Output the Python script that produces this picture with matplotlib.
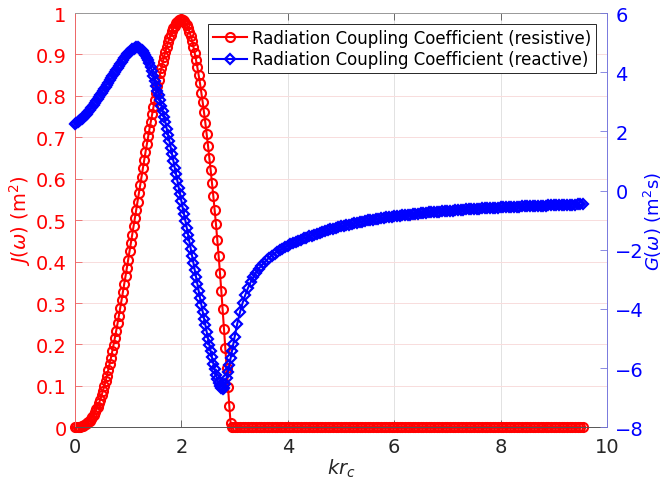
import numpy as np
import matplotlib
matplotlib.use("Agg")
import matplotlib.pyplot as plt

plt.rcParams['font.family'] = ['DejaVu Sans']
plt.rcParams['mathtext.fontset'] = 'dejavusans'

# Values
kr_fine = np.round(np.arange(0, 3.0, 0.025), 3)     # 0 .. 2.975
kr_tail = np.round(np.arange(3.0, 9.56, 0.05), 2)   # 3.00 .. 9.55

# resistive coupling J (left axis), one row per 0.25 in kr
J_fine = [0.0, 0.0001, 0.0003, 0.0007, 0.0015, 0.0025, 0.004, 0.0055, 0.0075, 0.010,
          0.013, 0.016, 0.020, 0.025, 0.030, 0.036, 0.043, 0.050, 0.058, 0.067,
          0.077, 0.088, 0.099, 0.111, 0.124, 0.138, 0.152, 0.167, 0.183, 0.199,
          0.216, 0.233, 0.251, 0.269, 0.288, 0.307, 0.326, 0.345, 0.365, 0.385,
          0.405, 0.425, 0.445, 0.465, 0.485, 0.505, 0.525, 0.545, 0.565, 0.585,
          0.605, 0.625, 0.645, 0.664, 0.683, 0.702, 0.720, 0.738, 0.756, 0.773,
          0.790, 0.807, 0.823, 0.839, 0.854, 0.868, 0.882, 0.895, 0.907, 0.918,
          0.929, 0.939, 0.948, 0.956, 0.963, 0.969, 0.975, 0.979, 0.982, 0.984,
          0.985, 0.984, 0.981, 0.977, 0.971, 0.964, 0.955, 0.945, 0.933, 0.919,
          0.904, 0.887, 0.869, 0.850, 0.830, 0.808, 0.785, 0.761, 0.735, 0.708,
          0.680, 0.651, 0.621, 0.590, 0.558, 0.525, 0.490, 0.453, 0.414, 0.373,
          0.330, 0.285, 0.238, 0.191, 0.144, 0.097, 0.052, 0.010, 0.0, 0.0]
J_tail = [0.0] * len(kr_tail)   # flat at zero past cut-off

# reactive coupling G (right axis)
G_fine = [2.25, 2.28, 2.31, 2.345, 2.38, 2.42, 2.46, 2.505, 2.55, 2.60,
          2.66, 2.72, 2.78, 2.84, 2.90, 2.96, 3.02, 3.09, 3.16, 3.23,
          3.30, 3.37, 3.44, 3.51, 3.58, 3.65, 3.72, 3.79, 3.86, 3.93,
          4.00, 4.08, 4.15, 4.22, 4.29, 4.36, 4.42, 4.48, 4.54, 4.60,
          4.65, 4.69, 4.73, 4.77, 4.80, 4.83, 4.84, 4.84, 4.82, 4.79,
          4.76, 4.71, 4.65, 4.57, 4.49, 4.40, 4.30, 4.17, 4.03, 3.87,
          3.70, 3.54, 3.38, 3.22, 3.05, 2.87, 2.68, 2.49, 2.30, 2.09,
          1.88, 1.66, 1.45, 1.22, 1.00, 0.77, 0.55, 0.32, 0.10, -0.13,
          -0.35, -0.58, -0.80, -1.03, -1.25, -1.49, -1.72, -1.96, -2.20, -2.44,
          -2.68, -2.91, -3.15, -3.39, -3.63, -3.86, -4.10, -4.33, -4.55, -4.78,
          -5.00, -5.22, -5.43, -5.64, -5.85, -6.04, -6.22, -6.38, -6.51, -6.61,
          -6.68, -6.71, -6.66, -6.52, -6.33, -6.12, -5.90, -5.66, -5.42, -5.17]
# one row per 0.5 in kr
G_tail = [-4.95, -4.50, -4.12, -3.80, -3.53, -3.30, -3.10, -2.93, -2.78, -2.65,
          -2.54, -2.44, -2.35, -2.27, -2.20, -2.13, -2.07, -2.01, -1.96, -1.91,
          -1.86, -1.82, -1.78, -1.74, -1.70, -1.66, -1.62, -1.59, -1.55, -1.52,
          -1.49, -1.46, -1.43, -1.40, -1.37, -1.34, -1.31, -1.29, -1.26, -1.24,
          -1.21, -1.19, -1.17, -1.15, -1.13, -1.11, -1.09, -1.07, -1.05, -1.03,
          -1.01, -1.00, -0.98, -0.97, -0.95, -0.94, -0.92, -0.91, -0.89, -0.88,
          -0.87, -0.86, -0.85, -0.84, -0.83, -0.82, -0.81, -0.80, -0.79, -0.78,
          -0.77, -0.76, -0.75, -0.74, -0.73, -0.725, -0.72, -0.71, -0.70, -0.695,
          -0.69, -0.68, -0.675, -0.67, -0.66, -0.655, -0.65, -0.64, -0.635, -0.63,
          -0.62, -0.615, -0.61, -0.605, -0.60, -0.595, -0.59, -0.585, -0.58, -0.575,
          -0.57, -0.565, -0.56, -0.555, -0.55, -0.547, -0.543, -0.54, -0.536, -0.533,
          -0.53, -0.526, -0.523, -0.52, -0.516, -0.513, -0.51, -0.507, -0.504, -0.50,
          -0.497, -0.494, -0.491, -0.488, -0.485, -0.482, -0.479, -0.476, -0.473, -0.47,
          -0.467, -0.465]

x_ticks = [0, 2, 4, 6, 8, 10]
J_ticks = [0, 0.1, 0.2, 0.3, 0.4, 0.5, 0.6, 0.7, 0.8, 0.9, 1]
J_ticklabels = ['0', '0.1', '0.2', '0.3', '0.4', '0.5', '0.6', '0.7', '0.8', '0.9', '1']
G_ticks = [-8, -6, -4, -2, 0, 2, 4, 6]

kr = np.concatenate([kr_fine, kr_tail])
J = np.array(J_fine + J_tail)
G = np.array(G_fine + G_tail)

W, H = 665, 489
fig = plt.figure(figsize=(W / 100, H / 100), dpi=100)
ax = fig.add_axes([75 / W, 1 - 428.3 / H, 532 / W, 414.3 / H])
ax2 = ax.twinx()

# markers are not clipped at the axes edge (as in the original)
l1, = ax.plot(kr, J, '-o', color='red', mfc='none', ms=6.5, mew=1.5, lw=1.5,
              clip_on=False, label='Radiation Coupling Coefficient (resistive)')
l2, = ax2.plot(kr, G, '-D', color='blue', mfc='none', ms=5.5, mew=1.6, lw=1.5,
               clip_on=False, label='Radiation Coupling Coefficient (reactive)')

ax.set_xlim(0, 10)
ax.set_ylim(0, 1)
ax2.set_ylim(-8, 6)
ax.set_xticks(x_ticks)
ax.set_yticks(J_ticks)
ax.set_yticklabels(J_ticklabels)
ax2.set_yticks(G_ticks)

ax.set_axisbelow(True)
ax.grid(axis='y', color='#f8dcdc', lw=0.7)
ax.grid(axis='x', color='#e2e2e2', lw=0.7)

ax.xaxis.set_ticks_position('both')
ax.tick_params(axis='x', direction='in', length=5, width=0.6, colors='#555555',
               labelcolor='#262626', labelsize=14, pad=7)
ax.tick_params(axis='y', direction='in', length=5, width=0.6, colors='#ee6666',
               labelcolor='red', labelsize=14, pad=6)
ax2.tick_params(axis='y', direction='in', length=5, width=0.6, colors='#7777dd',
                labelcolor='blue', labelsize=14, pad=6)

ax.spines['left'].set_color('#ee6666')
ax.spines['bottom'].set_color('#555555')
ax.spines['top'].set_color('#999999')
ax.spines['right'].set_visible(False)
for s in ['left', 'top', 'bottom']:
    ax2.spines[s].set_visible(False)
ax2.spines['right'].set_color('#7777dd')
for s in ax.spines.values():
    s.set_linewidth(0.7)
ax2.spines['right'].set_linewidth(0.7)

ax.set_ylabel(r'$J(\omega)$ (m$^2$)', color='red', fontsize=14)
ax.yaxis.set_label_coords(-0.079, 0.5)
ax2.set_ylabel(r'$G(\omega)$ (m$^2$s)', color='blue', fontsize=13, rotation=90)
ax2.yaxis.set_label_coords(1.066, 0.5)
ax.set_xlabel(r'$kr_c$', color='#262626', fontsize=14)
ax.xaxis.set_label_coords(0.5, -0.072)

leg = ax2.legend([l1, l2], [l1.get_label(), l2.get_label()], loc='upper right',
                 bbox_to_anchor=(0.979, 0.9734), borderaxespad=0, fontsize=12,
                 fancybox=False, framealpha=1, edgecolor='#262626',
                 handlelength=2.0, handletextpad=0.3, borderpad=0.3,
                 labelspacing=0.2)
leg.get_frame().set_linewidth(0.7)

fig.savefig('out.png', dpi=100)
